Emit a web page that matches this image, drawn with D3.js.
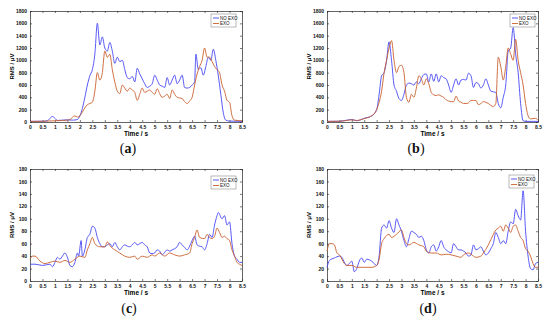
<html>
<head>
<meta charset="utf-8">
<script src="https://d3js.org/d3.v7.min.js"></script>
<style>
body{margin:0;background:#fff;}
svg{display:block;font-family:"Liberation Sans",Arial,sans-serif;}
</style>
</head>
<body>
<div id="chart"></div>
<script>
// time / s, RMS / uV
const aNoExo = [[0,10],[0.5,12],[0.7,20],[0.8,60],[0.9,90],[1.0,60],[1.1,25],[1.3,30],[1.5,35],[1.7,30],[1.9,40],[2.0,100],[2.1,220],[2.2,400],[2.3,600],[2.4,750],[2.5,850],[2.6,1100],[2.7,1600],[2.8,1250],[2.9,1380],[3.0,1200],[3.1,1150],[3.2,1290],[3.3,1150],[3.4,950],[3.5,1050],[3.6,980],[3.7,1000],[3.8,850],[3.9,720],[4.0,700],[4.1,740],[4.2,650],[4.3,870],[4.4,780],[4.5,700],[4.6,620],[4.7,560],[4.8,580],[4.9,620],[5.0,760],[5.1,680],[5.2,600],[5.3,580],[5.4,560],[5.5,720],[5.6,600],[5.7,680],[5.8,760],[5.9,620],[6.0,680],[6.1,760],[6.2,560],[6.3,550],[6.4,560],[6.5,600],[6.6,650],[6.65,1100],[6.75,850],[6.85,880],[6.95,760],[7.05,900],[7.15,1050],[7.25,1000],[7.35,1180],[7.45,1000],[7.55,750],[7.65,450],[7.75,150],[7.85,30],[8.0,15],[8.5,10]];
const aExo = [[0,10],[0.5,12],[1.0,20],[1.3,25],[1.5,30],[1.6,40],[1.8,100],[1.9,80],[2.0,100],[2.1,160],[2.2,230],[2.3,280],[2.4,300],[2.5,320],[2.6,500],[2.7,800],[2.8,680],[2.9,800],[3.0,1150],[3.1,1050],[3.2,1100],[3.3,850],[3.4,650],[3.5,500],[3.6,460],[3.7,600],[3.8,550],[3.9,500],[4.0,550],[4.1,520],[4.2,480],[4.3,350],[4.4,450],[4.5,550],[4.6,480],[4.7,500],[4.8,520],[4.9,480],[5.0,450],[5.1,540],[5.2,460],[5.3,400],[5.4,420],[5.5,450],[5.6,380],[5.7,520],[5.8,450],[5.9,400],[6.0,390],[6.1,380],[6.2,330],[6.3,300],[6.4,340],[6.5,400],[6.6,600],[6.7,780],[6.8,900],[6.9,1000],[7.0,1200],[7.1,1050],[7.2,1050],[7.3,980],[7.4,900],[7.5,850],[7.6,800],[7.7,600],[7.8,500],[7.9,350],[8.0,320],[8.1,100],[8.2,30],[8.5,20]];

const bNoExo = [[0,10],[0.5,12],[0.8,30],[1.0,40],[1.2,20],[1.5,60],[1.8,100],[2.0,200],[2.1,450],[2.2,750],[2.3,800],[2.4,1000],[2.5,1300],[2.6,1000],[2.7,600],[2.8,500],[2.9,380],[3.0,350],[3.1,450],[3.2,600],[3.3,630],[3.4,620],[3.5,600],[3.6,650],[3.7,620],[3.8,700],[3.9,770],[4.0,780],[4.1,650],[4.2,780],[4.3,660],[4.4,780],[4.5,650],[4.6,750],[4.7,720],[4.8,700],[4.9,600],[5.0,480],[5.1,600],[5.2,700],[5.3,600],[5.4,680],[5.5,690],[5.6,680],[5.7,790],[5.8,750],[5.9,560],[6.0,640],[6.1,620],[6.2,550],[6.3,600],[6.4,700],[6.5,600],[6.6,500],[6.7,490],[6.8,480],[6.9,300],[7.0,230],[7.1,400],[7.2,600],[7.3,1150],[7.4,1200],[7.5,1530],[7.6,1100],[7.7,800],[7.8,300],[7.9,20],[8.0,10],[8.5,10]];
const bExo = [[0,10],[0.5,12],[0.8,25],[1.0,35],[1.2,25],[1.5,55],[1.8,100],[2.0,200],[2.1,320],[2.2,500],[2.3,800],[2.4,1000],[2.5,1200],[2.6,1320],[2.7,1000],[2.8,800],[2.9,900],[3.0,920],[3.1,800],[3.2,400],[3.3,320],[3.4,450],[3.5,400],[3.6,550],[3.7,750],[3.8,700],[3.9,600],[4.0,700],[4.1,620],[4.2,480],[4.3,440],[4.4,430],[4.5,440],[4.6,420],[4.7,400],[4.8,360],[4.9,340],[5.0,330],[5.1,330],[5.2,420],[5.3,340],[5.4,320],[5.5,300],[5.6,300],[5.7,310],[5.8,350],[5.9,350],[6.0,350],[6.1,280],[6.2,300],[6.3,330],[6.4,320],[6.5,300],[6.6,270],[6.7,250],[6.8,300],[6.9,1050],[7.0,900],[7.1,680],[7.2,900],[7.3,1200],[7.4,1100],[7.5,1000],[7.6,1340],[7.7,1000],[7.8,800],[7.9,600],[8.0,300],[8.1,100],[8.2,50],[8.3,55],[8.4,60],[8.5,30]];

const cNoExo = [[0,27],[0.2,27],[0.5,25],[0.8,27],[0.9,23],[1.0,30],[1.1,38],[1.2,35],[1.3,40],[1.4,45],[1.5,38],[1.6,25],[1.7,23],[1.8,30],[1.9,45],[1.95,40],[2.05,65],[2.1,40],[2.2,50],[2.3,70],[2.4,75],[2.5,88],[2.6,85],[2.7,70],[2.8,60],[2.9,55],[3.0,55],[3.1,58],[3.2,60],[3.3,55],[3.4,62],[3.5,55],[3.6,50],[3.7,55],[3.8,58],[3.9,56],[4.0,55],[4.1,58],[4.2,62],[4.3,58],[4.4,60],[4.5,62],[4.6,58],[4.7,55],[4.8,45],[4.9,44],[5.0,45],[5.1,50],[5.2,48],[5.3,42],[5.4,46],[5.5,50],[5.6,48],[5.7,50],[5.8,52],[5.9,55],[6.0,62],[6.1,58],[6.2,54],[6.3,50],[6.4,56],[6.5,65],[6.6,72],[6.7,58],[6.8,56],[6.9,55],[7.0,50],[7.1,60],[7.2,75],[7.3,70],[7.4,90],[7.5,105],[7.55,110],[7.7,100],[7.8,105],[7.9,90],[8.0,95],[8.1,60],[8.2,40],[8.3,35],[8.4,30],[8.5,30]];
const cExo = [[0,35],[0.1,40],[0.2,40],[0.4,32],[0.6,28],[0.8,30],[1.0,32],[1.2,30],[1.4,33],[1.6,30],[1.8,35],[2.0,40],[2.2,38],[2.3,50],[2.4,60],[2.5,70],[2.6,60],[2.8,55],[3.0,55],[3.1,63],[3.2,57],[3.4,50],[3.6,45],[3.8,40],[4.0,38],[4.2,40],[4.3,35],[4.5,40],[4.7,38],[4.9,42],[5.0,40],[5.2,45],[5.4,40],[5.6,45],[5.8,42],[6.0,40],[6.2,42],[6.4,45],[6.5,60],[6.6,70],[6.7,82],[6.8,70],[7.0,68],[7.1,75],[7.2,70],[7.3,68],[7.4,72],[7.5,85],[7.6,78],[7.7,70],[7.8,72],[7.9,68],[8.0,65],[8.1,50],[8.2,40],[8.3,30],[8.4,27],[8.5,25]];

const dNoExo = [[0,22],[0.1,33],[0.3,37],[0.5,40],[0.6,38],[0.7,30],[0.8,25],[0.9,28],[1.0,32],[1.1,15],[1.2,20],[1.3,32],[1.4,37],[1.5,30],[1.6,35],[1.8,32],[2.0,25],[2.1,40],[2.2,85],[2.3,90],[2.4,85],[2.5,97],[2.6,85],[2.7,78],[2.8,100],[2.9,90],[3.0,80],[3.1,65],[3.2,55],[3.3,68],[3.4,80],[3.5,78],[3.6,75],[3.7,70],[3.8,72],[3.9,65],[4.0,50],[4.1,45],[4.2,55],[4.3,58],[4.4,48],[4.5,55],[4.6,65],[4.7,55],[4.8,50],[4.9,47],[5.0,45],[5.1,60],[5.2,55],[5.3,50],[5.4,50],[5.5,48],[5.6,45],[5.7,40],[5.8,42],[5.9,58],[6.0,50],[6.1,52],[6.2,55],[6.3,48],[6.4,42],[6.5,45],[6.6,52],[6.7,60],[6.8,78],[6.9,70],[7.0,60],[7.1,65],[7.2,60],[7.3,80],[7.4,95],[7.5,92],[7.6,115],[7.7,105],[7.8,98],[7.9,145],[8.0,80],[8.1,40],[8.2,20],[8.3,18],[8.4,28],[8.5,30]];
const dExo = [[0,48],[0.1,60],[0.2,60],[0.3,58],[0.4,45],[0.5,42],[0.6,35],[0.7,28],[0.8,25],[1.0,25],[1.2,22],[1.5,22],[1.8,22],[2.0,25],[2.1,35],[2.2,60],[2.3,68],[2.5,75],[2.6,70],[2.8,75],[3.0,82],[3.1,70],[3.2,60],[3.3,58],[3.5,62],[3.7,58],[3.9,55],[4.0,48],[4.2,45],[4.4,45],[4.6,42],[4.8,43],[5.0,42],[5.2,40],[5.4,38],[5.5,42],[5.7,45],[5.9,40],[6.0,38],[6.2,40],[6.3,45],[6.5,58],[6.7,75],[6.8,82],[6.9,85],[7.0,88],[7.1,80],[7.2,90],[7.3,85],[7.4,78],[7.5,88],[7.6,90],[7.7,80],[7.8,70],[7.9,65],[8.0,52],[8.1,48],[8.2,40],[8.3,28],[8.4,22],[8.5,22]];

const xTicks = d3.range(0, 8.51, 0.5);
const yTicksBig = d3.range(0, 1801, 200);
const yTicksSmall = d3.range(0, 181, 20);
const seriesNames = ['NO EXO', 'EXO'];
const captions = ['(a)', '(b)', '(c)', '(d)'];

const colors = ['#4646f5', '#c8602e'];

const panels = [
  {x0:30, x1:242, y0:11, y1:122, yMax:1800, yTicks:yTicksBig, data:[aNoExo,aExo], cap:captions[0], capX:128, capY:153, legX:211, legY:14},
  {x0:327, x1:538, y0:11, y1:122, yMax:1800, yTicks:yTicksBig, data:[bNoExo,bExo], cap:captions[1], capX:416, capY:153, legX:510, legY:14},
  {x0:30, x1:242, y0:169, y1:281, yMax:180, yTicks:yTicksSmall, data:[cNoExo,cExo], cap:captions[2], capX:129, capY:313, legX:211, legY:176},
  {x0:327, x1:538, y0:169, y1:281, yMax:180, yTicks:yTicksSmall, data:[dNoExo,dExo], cap:captions[3], capX:428, capY:313, legX:509, legY:175}
];

const svg = d3.select('#chart').append('svg')
  .attr('width', 550)
  .attr('height', 322);

svg.append('rect').attr('width',550).attr('height',322).attr('fill','#fff');

panels.forEach(p => {
  const x = d3.scaleLinear().domain([0, 8.5]).range([p.x0, p.x1]);
  const y = d3.scaleLinear().domain([0, p.yMax]).range([p.y1, p.y0]);
  const g = svg.append('g');

  const fmt = d3.format('');
  g.append('g').attr('transform',`translate(0,${p.y1})`)
    .call(d3.axisBottom(x).tickValues(xTicks).tickSizeInner(-2).tickSizeOuter(0).tickPadding(3).tickFormat(fmt));
  g.append('g').attr('transform',`translate(0,${p.y0})`)
    .call(d3.axisTop(x).tickValues(xTicks).tickSizeInner(-2).tickSizeOuter(0).tickFormat(''));
  g.append('g').attr('transform',`translate(${p.x0},0)`)
    .call(d3.axisLeft(y).tickValues(p.yTicks).tickSizeInner(-2).tickSizeOuter(0).tickPadding(3).tickFormat(fmt));
  g.append('g').attr('transform',`translate(${p.x1},0)`)
    .call(d3.axisRight(y).tickValues(p.yTicks).tickSizeInner(-2).tickSizeOuter(0).tickFormat(''));

  g.selectAll('.domain').attr('stroke','#222').attr('stroke-width',0.7);
  g.selectAll('.tick line').attr('stroke','#222').attr('stroke-width',0.6);
  g.selectAll('.tick text').attr('font-size',5).attr('fill','#111').attr('font-weight','bold');

  const line = d3.line().x(d => x(d[0])).y(d => y(d[1])).curve(d3.curveMonotoneX);
  p.data.forEach((s, i) => {
    g.append('path').datum(s)
      .attr('d', line)
      .attr('fill','none')
      .attr('stroke', colors[i])
      .attr('stroke-width', 0.9);
  });

  // axis titles
  g.append('text')
    .attr('x', (p.x0 + p.x1)/2).attr('y', p.y1 + 14)
    .attr('text-anchor','middle').attr('font-size',6.5).attr('font-weight','bold')
    .text('Time / s');
  g.append('text')
    .attr('transform',`translate(${p.x0 - 16},${(p.y0 + p.y1)/2}) rotate(-90)`)
    .attr('text-anchor','middle').attr('font-size',6).attr('font-weight','bold')
    .text('RMS / μV');

  // legend
  const lg = g.append('g').attr('transform',`translate(${p.legX},${p.legY})`);
  lg.append('rect').attr('width',25).attr('height',13)
    .attr('fill','#fff').attr('stroke','#555').attr('stroke-width',0.4);
  seriesNames.forEach((n, i) => {
    lg.append('line').attr('x1',2).attr('x2',8).attr('y1',4 + i*5.5).attr('y2',4 + i*5.5)
      .attr('stroke',colors[i]).attr('stroke-width',0.9);
    lg.append('text').attr('x',9).attr('y',5.6 + i*5.5)
      .attr('font-size',4.5).attr('fill','#111').text(n);
  });

  // caption
  const cap = g.append('text').attr('x',p.capX).attr('y',p.capY)
    .attr('text-anchor','middle').attr('font-family','"Liberation Serif","Times New Roman",serif')
    .attr('font-size',14).attr('fill','#111');
  cap.append('tspan').text('(');
  cap.append('tspan').attr('font-weight','bold').text(p.cap.slice(1,2));
  cap.append('tspan').text(')');
});
</script>
</body>
</html>
